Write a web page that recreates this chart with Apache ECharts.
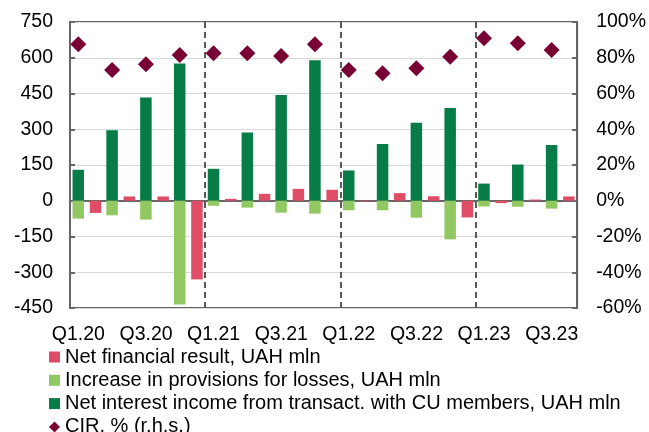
<!DOCTYPE html>
<html>
<head>
<meta charset="utf-8">
<script src="https://cdn.jsdelivr.net/npm/echarts@6/dist/echarts.min.js"></script>
<style>
  html, body { margin: 0; padding: 0; background: #fff; }
  #chart { width: 649px; height: 432px; }
</style>
</head>
<body>
<div id="chart"></div>
<script>
const categories = ['Q1.20','Q2.20','Q3.20','Q4.20','Q1.21','Q2.21','Q3.21','Q4.21','Q1.22','Q2.22','Q3.22','Q4.22','Q1.23','Q2.23','Q3.23'];
const netFinancialResult = [-51, 18, 18, -330, 8, 29, 50, 46, -3, 32, 19, -70, -10, 5, 18];
const provisionsIncrease = [-75, -61, -79, -435, -21, -29, -50, -54, -40, -40, -71, -162, -24, -25, -33];
const netInterestIncome = [130, 296, 433, 576, 134, 286, 444, 589, 127, 238, 327, 389, 72, 152, 234];
const cirPct = [87.5, 73.1, 76.3, 81.5, 82.5, 82.5, 81, 87.5, 73.1, 71.3, 74.1, 80.6, 90.9, 88.1, 84.3];
const yearDividers = [4, 8, 12];
const leftTicks = { min: -450, max: 750, interval: 150 };
const rightTicks = { min: -60, max: 100, interval: 20 };

const names = {
  nfr: 'Net financial result, UAH mln',
  prov: 'Increase in provisions for losses, UAH mln',
  nii: 'Net interest income from transact. with CU members, UAH mln',
  cir: 'CIR, % (r.h.s.)'
};
const FONT = 'Liberation Sans, Arial, sans-serif';
const AXIS_COLOR = '#666666';

const chart = echarts.init(document.getElementById('chart'), null, { renderer: 'canvas' });
chart.setOption({
  animation: false,
  backgroundColor: '#ffffff',
  textStyle: { fontFamily: FONT },
  grid: {
    left: 70, right: 71, top: 22, bottom: 124,
    show: true, borderColor: AXIS_COLOR, borderWidth: 2, backgroundColor: 'transparent'
  },
  legend: {
    orient: 'vertical', left: 49, top: 347, height: 120, padding: 0,
    itemWidth: 11, itemHeight: 11, itemGap: 3.3,
    textStyle: { fontFamily: FONT, fontSize: 20, color: '#000', lineHeight: 19 },
    data: [
      { name: names.nfr, icon: 'rect' },
      { name: names.prov, icon: 'rect' },
      { name: names.nii, icon: 'rect' },
      { name: names.cir, icon: 'diamond' }
    ]
  },
  xAxis: [
    {
      type: 'category', data: categories, boundaryGap: true,
      axisLine: { show: true, lineStyle: { color: AXIS_COLOR, width: 2 } },
      axisTick: { show: false },
      axisLabel: { interval: 1, fontSize: 19.5, color: '#000', fontFamily: FONT, margin: 17, padding: [0, 17, 0, 0] },
      splitLine: { show: false }
    },
    {
      type: 'value', min: 0, max: categories.length, show: false
    }
  ],
  yAxis: [
    {
      type: 'value', min: leftTicks.min, max: leftTicks.max, interval: leftTicks.interval,
      axisLine: { show: true, lineStyle: { color: AXIS_COLOR, width: 2 } },
      axisTick: { show: true, inside: true, length: 5, lineStyle: { color: AXIS_COLOR, width: 2 } },
      axisLabel: { fontSize: 19.5, color: '#000', fontFamily: FONT, margin: 17 },
      splitLine: { show: true, lineStyle: { color: '#d9d9d9', width: 1 } }
    },
    {
      type: 'value', min: rightTicks.min, max: rightTicks.max, interval: rightTicks.interval,
      position: 'right',
      axisLine: { show: true, lineStyle: { color: AXIS_COLOR, width: 2 } },
      axisTick: { show: true, inside: true, length: 5, lineStyle: { color: AXIS_COLOR, width: 2 } },
      axisLabel: { fontSize: 19.5, color: '#000', fontFamily: FONT, margin: 19, formatter: '{value}%' },
      splitLine: { show: false }
    }
  ],
  series: [
    {
      name: names.nii, type: 'bar', stack: 'flows', data: netInterestIncome,
      barWidth: 11.5, barGap: '50%',
      itemStyle: { color: '#077C46' }
    },
    {
      name: names.prov, type: 'bar', stack: 'flows', data: provisionsIncrease,
      barWidth: 11.5, barGap: '50%',
      itemStyle: { color: '#92C862' }
    },
    {
      name: names.nfr, type: 'bar', data: netFinancialResult,
      barWidth: 11.5, barGap: '50%',
      itemStyle: { color: '#DE4C66' }
    },
    {
      name: names.cir, type: 'scatter', yAxisIndex: 1, data: cirPct,
      symbol: 'diamond', symbolSize: 16, symbolOffset: [-8.6, 0],
      itemStyle: { color: '#780032', opacity: 1 }, z: 5
    },
    {
      name: 'dividers', type: 'scatter', xAxisIndex: 1, yAxisIndex: 0, data: [],
      silent: true,
      markLine: {
        silent: true, symbol: ['none', 'none'], label: { show: false },
        lineStyle: { color: '#595959', width: 2, type: [6, 4] },
        data: yearDividers.map(v => ({ xAxis: v }))
      }
    }
  ]
});
</script>
</body>
</html>
